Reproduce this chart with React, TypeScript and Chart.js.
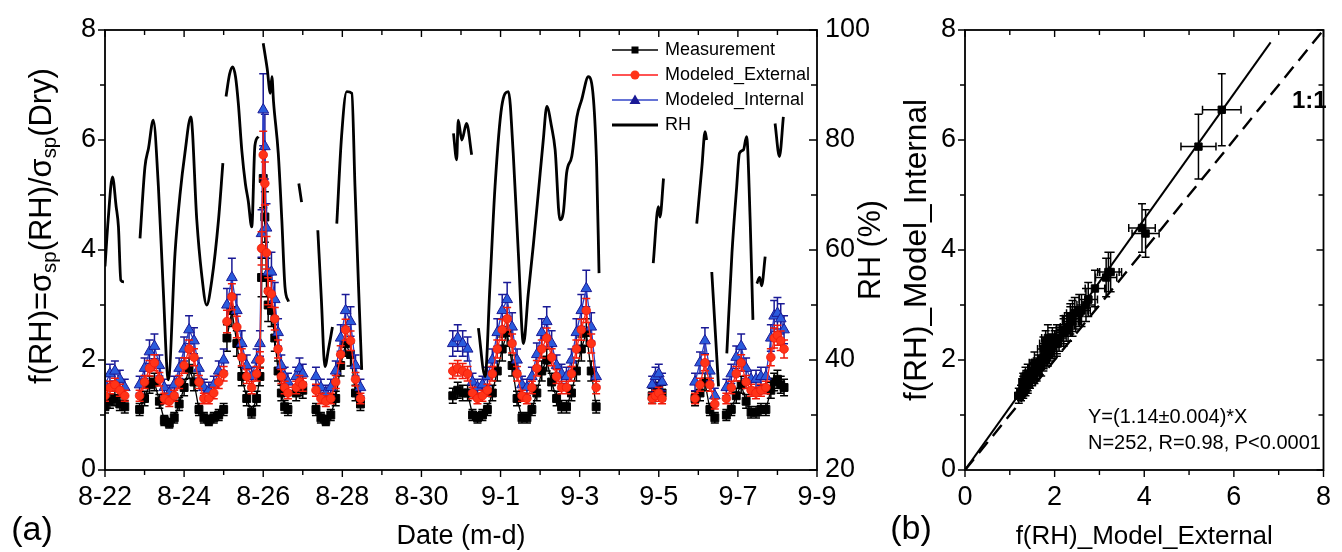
import React, { useEffect, useRef } from "react";
import { Chart, registerables } from "chart.js";
Chart.register(...registerables);

const FONT = '"Liberation Sans", Arial, Helvetica, sans-serif';
const W = 1342;
const H = 552;

// ---------- axis tick labels ----------
const xTickLabels = ["8-22", "8-24", "8-26", "8-28", "8-30", "9-1", "9-3", "9-5", "9-7", "9-9"];

// ---------- panel (a): f(RH) time series (days since 8-22 00:00; null = gap) ----------
const fTime = [
  0, 0.125, 0.25, 0.375, 0.5, 0.7,
  0.875, 1.0, 1.125, 1.25, 1.375, 1.5, 1.625, 1.75, 1.875, 2.0, 2.125, 2.25, 2.375, 2.5, 2.625, 2.75, 2.875, 3.0, 3.04,
  3.083, 3.208, 3.333, 3.458, 3.583, 3.708, 3.833, 3.917, 3.958, 4.0, 4.042, 4.083, 4.125, 4.208, 4.292, 4.375, 4.458, 4.542, 4.625, 4.73,
  4.833, 4.917, 5.0, 5.17,
  5.333, 5.458, 5.583, 5.708, 5.833, 5.958, 6.083, 6.208, 6.333, 6.458, 7.6,
  8.792, 8.917, 9.042, 9.167, 9.292, 9.417, 9.542, 9.667, 9.792, 9.917, 10.042, 10.167, 10.292, 10.417, 10.542,
  10.667, 10.792, 10.917, 11.042, 11.167, 11.292, 11.417, 11.542, 11.667, 11.792, 11.917, 12.042, 12.167, 12.292, 12.417, 13.1,
  13.833, 13.917, 14.0, 14.083, 14.5,
  14.917, 15.042, 15.167, 15.292, 15.417, 15.56,
  15.708, 15.833, 15.958, 16.083, 16.208, 16.333, 16.458, 16.583, 16.708, 16.833, 16.917, 17.0, 17.083, 17.167,
];

const fMeasurement = [
  1.15, 1.25, 1.3, 1.2, 1.15, null,
  1.1, 1.3, 1.55, 1.6, 1.25, 0.9, 0.85, 0.95, 1.2, 1.5, 1.85, 1.6, 1.1, 0.95, 0.9, 0.95, 1.0, 1.1, null,
  2.4, 2.9, 2.3, 1.7, 1.3, 1.05, 1.3, 1.7, 3.5, 5.3, 4.6, 3.5, 3.0, 2.9, 2.4, 1.8, 1.4, 1.15, 1.1, null,
  1.4, 1.5, 1.45, null,
  1.1, 0.95, 0.9, 1.0, 1.3, 1.9, 2.3, 2.1, 1.4, 1.2, null,
  1.35, 1.45, 1.4, 1.4, 1.0, 0.95, 1.0, 1.1, 1.4, 1.8, 2.2, 2.5, 1.9, 1.3, 0.95,
  0.95, 1.1, 1.4, 1.8, 2.0, 1.6, 1.3, 1.15, 1.15, 1.4, 1.8, 2.2, 2.5, 1.8, 1.15, null,
  1.35, 1.45, 1.5, 1.4, null,
  1.3, 1.4, 1.6, 1.1, 0.95, null,
  1.0, 1.1, 1.35, 1.55, 1.25, 1.05, 1.05, 1.1, 1.1, 1.45, 1.6, 1.65, 1.55, 1.5,
];

const fExternal = [
  1.35, 1.5, 1.55, 1.45, 1.35, null,
  1.35, 1.6, 1.85, 1.95, 1.65, 1.3, 1.25, 1.35, 1.6, 1.9, 2.2, 2.05, 1.6, 1.3, 1.3, 1.4, 1.6, 1.75, null,
  2.7, 3.15, 2.6, 2.05, 1.7, 1.5, 1.75, 2.0, 4.03, 5.73, 5.21, 3.95, 3.25, 3.2, 2.75, 2.2, 1.7, 1.5, 1.4, null,
  1.5, 1.6, 1.55, null,
  1.45, 1.3, 1.25, 1.3, 1.6, 2.1, 2.55, 2.35, 1.65, 1.3, null,
  1.8, 1.85, 1.8, 1.75, 1.4, 1.3, 1.35, 1.45, 1.75, 2.2, 2.55, 2.75, 2.3, 1.75, 1.35,
  1.3, 1.5, 1.85, 2.2, 2.4, 2.05, 1.7, 1.5, 1.5, 1.75, 2.2, 2.55, 2.9, 2.3, 1.5, null,
  1.3, 1.35, 1.4, 1.3, null,
  1.3, 1.55, 1.95, 1.55, 1.2, null,
  1.3, 1.5, 1.75, 1.95, 1.6, 1.45, 1.4, 1.45, 1.5, 2.05, 2.4, 2.45, 2.35, 2.2,
];

const fInternal = [
  1.55, 1.75, 1.8, 1.65, 1.5, null,
  1.55, 1.85, 2.15, 2.25, 1.9, 1.5, 1.4, 1.55, 1.85, 2.2, 2.55, 2.35, 1.85, 1.5, 1.45, 1.55, 1.8, 2.0, null,
  3.0, 3.5, 2.9, 2.3, 1.9, 1.7, 2.0, 2.3, 4.3, 6.55, 5.88, 4.4, 3.6, 3.6, 3.1, 2.5, 1.9, 1.7, 1.6, null,
  1.7, 1.85, 1.75, null,
  1.7, 1.5, 1.4, 1.5, 1.8, 2.4, 2.9, 2.7, 1.9, 1.5, null,
  2.3, 2.4, 2.3, 2.2, 1.6, 1.5, 1.55, 1.7, 2.0, 2.5, 2.9, 3.1, 2.6, 2.0, 1.55,
  1.5, 1.7, 2.1, 2.5, 2.7, 2.3, 1.9, 1.75, 1.7, 2.0, 2.5, 2.9, 3.3, 2.6, 1.7, null,
  1.55, 1.7, 1.75, 1.6, null,
  1.6, 1.95, 2.35, 1.8, 1.35, null,
  1.5, 1.75, 2.05, 2.25, 1.85, 1.65, 1.65, 1.7, 1.7, 2.4, 2.8, 2.85, 2.75, 2.55,
];

// relative uncertainties (error bars)
const errMeasurement = 0.1;
const errExternal = 0.075;
const errInternal = 0.1;

// ---------- panel (a): RH (%) ----------
const rhTime = [
  0, 0.08, 0.19, 0.28, 0.34, 0.4, 0.48, 0.7,
  0.885, 1.01, 1.1, 1.22, 1.35, 1.47, 1.6, 1.77, 1.9, 2.02, 2.17, 2.32, 2.44, 2.57, 2.7, 2.87, 2.98, 3.02,
  3.06, 3.15, 3.23, 3.3, 3.37, 3.46, 3.55, 3.62, 3.71, 3.79, 3.88, 3.95,
  4.0, 4.1, 4.18, 4.22, 4.26, 4.38, 4.47, 4.55, 4.64, 4.78,
  4.9, 4.97, 5.2,
  5.38, 5.47, 5.56, 5.65, 5.75, 5.8,
  5.86, 5.98, 6.11, 6.24, 6.32, 6.41, 6.49, 7.6,
  8.81, 8.89, 8.93, 9.02, 9.14, 9.27, 9.35,
  9.44, 9.61, 9.73, 9.86, 10.03, 10.2, 10.32, 10.45, 10.58, 10.7, 10.83, 10.95, 11.08, 11.17, 11.29,
  11.38, 11.5, 11.59, 11.67, 11.8, 11.93, 12.05, 12.22, 12.35, 12.43, 12.49, 13.2,
  13.86, 13.99, 14.03, 14.12, 14.5,
  14.96, 15.09, 15.17, 15.21, 15.27,
  15.34, 15.43, 15.51, 15.6,
  15.72, 15.85, 15.97, 16.04, 16.14, 16.22, 16.31, 16.38, 16.43,
  16.48, 16.55, 16.6, 16.69, 16.8,
  16.94, 17.05, 17.15,
];
const rhValue = [
  57, 65.5, 73.3, 68, 64.2, 54.5, 54.2, null,
  62.1, 75.1, 78.5, 83.6, 71.5, 53.3, 36.4, 59.4, 70.3, 77.6, 84.2, 65.5, 55.8, 50, 54.5, 65.5, 75.8, null,
  87.9, 92, 93.3, 91.5, 86.7, 78, 72, 69, 64.2, 79, 80.6, null,
  97.6, 93, 88.5, 91.5, 87, 77.6, 65.5, 53.3, 50.6, null,
  72.1, 68.7, null,
  63.6, 51, 38.8, 42, 46, null,
  64.8, 80.6, 88.8, 88.5, 71.5, 53.3, 38.2, null,
  81.2, 76.4, 83.6, 80, 83, 77.3, null,
  45.8, 37, 53.3, 71.5, 86.1, 88.8, 77.6, 59.4, 43, 52, 61, 70, 80, 86.1, 82.4,
  78.2, 65.5, 67, 74, 77, 84.2, 87.3, 91.5, 87.3, 75.1, 55.8, null,
  57.6, 67.9, 66, 73, null,
  64.8, 75.1, 81.5, 80, null,
  56, 45, 35.2, null,
  41.2, 59.4, 71.5, 77.6, 78.2, 80.6, 65.5, 47.3, null,
  53.9, 55, 53.5, 58.8, null,
  83, 77, 84.2,
];

// ---------- panel (b): regression ----------
const fitSlope = 1.14;
const fitXRange = [0, 6.82];
const oneToOneRange = [0, 8];
const statsLines = ["Y=(1.14\u00B10.004)*X", "N=252, R=0.98, P<0.0001"];

// ---------- helpers ----------
const toXY = (xs: number[], ys: (number | null)[]) => xs.map((x, i) => ({ x, y: ys[i] }));

function drawText(ctx: CanvasRenderingContext2D, s: string, x: number, y: number, font: string,
  align: CanvasTextAlign = "center", rot = 0) {
  ctx.save();
  ctx.translate(x, y);
  if (rot) ctx.rotate(rot);
  ctx.font = font;
  ctx.textAlign = align;
  ctx.textBaseline = "middle";
  ctx.fillStyle = "#000";
  ctx.fillText(s, 0, 0);
  ctx.restore();
}

// rotated text fitted to a target length
function drawFittedRotated(ctx: CanvasRenderingContext2D, s: string, cx: number, cy: number, target: number) {
  ctx.save();
  ctx.font = `30px ${FONT}`;
  const w = ctx.measureText(s).width;
  const size = (30 * target) / w;
  ctx.restore();
  drawText(ctx, s, cx, cy, `${size.toFixed(1)}px ${FONT}`, "center", -Math.PI / 2);
}

function drawRichRotated(ctx: CanvasRenderingContext2D, cx: number, cy: number,
  parts: { t: string; sub?: boolean }[], target: number) {
  ctx.save();
  ctx.translate(cx, cy);
  ctx.rotate(-Math.PI / 2);
  ctx.textBaseline = "middle";
  ctx.textAlign = "left";
  ctx.fillStyle = "#000";
  const measure = (size: number) => {
    let total = 0;
    const widths = parts.map((p) => {
      ctx.font = `${p.sub ? size * 0.66 : size}px ${FONT}`;
      const w = ctx.measureText(p.t).width;
      total += w;
      return w;
    });
    return { total, widths };
  };
  const base = measure(30);
  const size = (30 * target) / base.total;
  const m = measure(size);
  let x = -m.total / 2;
  parts.forEach((p, i) => {
    ctx.font = `${p.sub ? size * 0.66 : size}px ${FONT}`;
    ctx.fillText(p.t, x, p.sub ? size * 0.27 : 0);
    x += m.widths[i];
  });
  ctx.restore();
}

function drawFrameAndTicks(chart: any, xId: string, yId: string, y2Id: string | null) {
  const { ctx, chartArea: a } = chart;
  const xs = chart.scales[xId];
  const ys = chart.scales[yId];
  ctx.save();
  ctx.strokeStyle = "#000";
  ctx.lineWidth = 1.8;
  ctx.strokeRect(a.left, a.top, a.right - a.left, a.bottom - a.top);
  ctx.lineWidth = 1.4;
  ctx.beginPath();
  xs.ticks.forEach((t: any) => {
    const px = xs.getPixelForValue(t.value);
    const len = t.label !== "" ? 7 : 5;
    ctx.moveTo(px, a.bottom);
    ctx.lineTo(px, a.bottom + len);
    ctx.moveTo(px, a.top);
    ctx.lineTo(px, a.top + len);
  });
  ys.ticks.forEach((t: any) => {
    const py = ys.getPixelForValue(t.value);
    const len = t.label !== "" ? 7 : 5;
    ctx.moveTo(a.left - len, py);
    ctx.lineTo(a.left, py);
    if (!y2Id) {
      ctx.moveTo(a.right - len, py);
      ctx.lineTo(a.right, py);
    }
  });
  if (y2Id) {
    const y2 = chart.scales[y2Id];
    y2.ticks.forEach((t: any) => {
      const py = y2.getPixelForValue(t.value);
      const len = t.label !== "" ? 8 : 6;
      ctx.moveTo(a.right - len, py);
      ctx.lineTo(a.right, py);
    });
  }
  ctx.stroke();
  ctx.restore();
}

const errorBarPlugin = {
  id: "errorBars",
  beforeDatasetDraw(chart: any, args: any) {
    const ds: any = chart.data.datasets[args.index];
    if (!ds.errY && !ds.errX) return;
    const meta = args.meta;
    const xs = chart.scales[meta.xAxisID];
    const ys = chart.scales[meta.yAxisID];
    const ctx = chart.ctx;
    const a = chart.chartArea;
    ctx.save();
    ctx.beginPath();
    ctx.rect(a.left, a.top, a.right - a.left, a.bottom - a.top);
    ctx.clip();
    ctx.strokeStyle = ds.errColor;
    ctx.lineWidth = 1.5;
    ctx.beginPath();
    const cap = 4;
    ds.data.forEach((p: any) => {
      if (p.y == null || p.x == null) return;
      const px = xs.getPixelForValue(p.x);
      const py = ys.getPixelForValue(p.y);
      if (ds.errY) {
        const e = p.y * ds.errY;
        const y0 = ys.getPixelForValue(p.y - e);
        const y1 = ys.getPixelForValue(p.y + e);
        ctx.moveTo(px, y0); ctx.lineTo(px, y1);
        ctx.moveTo(px - cap, y0); ctx.lineTo(px + cap, y0);
        ctx.moveTo(px - cap, y1); ctx.lineTo(px + cap, y1);
      }
      if (ds.errX) {
        const e = p.x * ds.errX;
        const x0 = xs.getPixelForValue(p.x - e);
        const x1 = xs.getPixelForValue(p.x + e);
        ctx.moveTo(x0, py); ctx.lineTo(x1, py);
        ctx.moveTo(x0, py - cap); ctx.lineTo(x0, py + cap);
        ctx.moveTo(x1, py - cap); ctx.lineTo(x1, py + cap);
      }
    });
    ctx.stroke();
    ctx.restore();
  },
};

const COL_RED = "#ff3318";
const COL_RED_DARK = "#f01a0a";
const COL_BLUE = "#2a5bdc";
const COL_NAVY = "#1a1a96";

const leftDecor = {
  id: "leftDecor",
  afterDraw(chart: any) {
    const ctx = chart.ctx as CanvasRenderingContext2D;
    const a = chart.chartArea;
    drawFrameAndTicks(chart, "x", "y", "y1");
    // left axis title with subscripts
    drawRichRotated(ctx, 42, 226, [
      { t: "f(RH)=\u03C3" }, { t: "sp", sub: true }, { t: "(RH)/\u03C3" }, { t: "sp", sub: true }, { t: "(Dry)" },
    ], 316);
    drawFittedRotated(ctx, "RH (%)", 872, (a.top + a.bottom) / 2, 100);
    drawText(ctx, "Date (m-d)", (a.left + a.right) / 2, 537, `27px ${FONT}`);
    drawText(ctx, "(a)", 32, 531, `34px ${FONT}`);
    // legend
    const lx0 = a.right - 205, lx1 = a.right - 159, mx = (lx0 + lx1) / 2, tx = a.right - 152;
    const rows = ["Measurement", "Modeled_External", "Modeled_Internal", "RH"];
    rows.forEach((name, i) => {
      const y = a.top + 20 + i * 25;
      ctx.save();
      ctx.lineWidth = i === 3 ? 2.8 : 1.6;
      ctx.strokeStyle = i === 1 ? "#ff1a1a" : i === 2 ? "#3346c8" : "#000";
      ctx.beginPath(); ctx.moveTo(lx0, y); ctx.lineTo(lx1, y); ctx.stroke();
      if (i === 0) { ctx.fillStyle = "#000"; ctx.fillRect(mx - 3.5, y - 3.5, 7, 7); }
      if (i === 1) { ctx.fillStyle = COL_RED; ctx.beginPath(); ctx.arc(mx, y, 4.5, 0, Math.PI * 2); ctx.fill(); }
      if (i === 2) {
        ctx.fillStyle = COL_NAVY; ctx.beginPath();
        ctx.moveTo(mx, y - 5.5); ctx.lineTo(mx + 5.5, y + 4); ctx.lineTo(mx - 5.5, y + 4); ctx.closePath(); ctx.fill();
      }
      ctx.restore();
      drawText(ctx, name, tx, y, `18px ${FONT}`, "left");
    });
  },
};

const rightDecor = {
  id: "rightDecor",
  afterDraw(chart: any) {
    const ctx = chart.ctx as CanvasRenderingContext2D;
    const a = chart.chartArea;
    drawFrameAndTicks(chart, "x", "y", null);
    drawFittedRotated(ctx, "f(RH)_Model_Internal", 917, (a.top + a.bottom) / 2, 302);
    drawText(ctx, "f(RH)_Model_External", (a.left + a.right) / 2, 537, `26px ${FONT}`);
    drawText(ctx, "(b)", 911, 530, `34px ${FONT}`);
    drawText(ctx, "1:1", 1292, 101, `bold 24px ${FONT}`, "left");
    drawText(ctx, statsLines[0], 1088, 417, `20px ${FONT}`, "left");
    drawText(ctx, statsLines[1], 1088, 443, `20px ${FONT}`, "left");
  },
};

const tickFont = { size: 27, family: FONT };

export default function App() {
  const leftRef = useRef<HTMLCanvasElement>(null);
  const rightRef = useRef<HTMLCanvasElement>(null);

  useEffect(() => {
    Chart.defaults.font.family = FONT;
    Chart.defaults.color = "#000";

    const left = new Chart(leftRef.current as HTMLCanvasElement, {
      type: "line",
      data: {
        datasets: [
          {
            label: "RH", data: toXY(rhTime, rhValue) as any, xAxisID: "x", yAxisID: "y1",
            borderColor: "#000", borderWidth: 2.8, pointRadius: 0, cubicInterpolationMode: "monotone", order: 0,
          } as any,
          {
            label: "Modeled_External", data: toXY(fTime, fExternal) as any, xAxisID: "x", yAxisID: "y",
            borderColor: "#ff2a1a", borderWidth: 1.3, pointStyle: "circle", pointRadius: 4.3,
            pointBackgroundColor: COL_RED, pointBorderColor: COL_RED_DARK, pointBorderWidth: 0.8,
            errY: errExternal, errColor: COL_RED_DARK, order: 1,
          } as any,
          {
            label: "Modeled_Internal", data: toXY(fTime, fInternal) as any, xAxisID: "x", yAxisID: "y",
            borderColor: "#2a3ec8", borderWidth: 1.3, pointStyle: "triangle", pointRadius: 6.2,
            pointBackgroundColor: COL_BLUE, pointBorderColor: COL_NAVY, pointBorderWidth: 1,
            errY: errInternal, errColor: COL_NAVY, order: 2,
          } as any,
          {
            label: "Measurement", data: toXY(fTime, fMeasurement) as any, xAxisID: "x", yAxisID: "y",
            borderColor: "#000", borderWidth: 1.3, pointStyle: "rect", pointRadius: 5.6,
            pointBackgroundColor: "#000", pointBorderColor: "#000", pointBorderWidth: 1,
            errY: errMeasurement, errColor: "#000", order: 3,
          } as any,
        ],
      },
      options: {
        responsive: false,
        animation: false,
        devicePixelRatio: 1,
        events: [],
        layout: { padding: { top: 30, left: 0, right: 0, bottom: 0 } },
        plugins: { legend: { display: false }, tooltip: { enabled: false } },
        scales: {
          x: {
            type: "linear", position: "bottom", min: 0, max: 18,
            grid: { display: false, drawTicks: false }, border: { display: false },
            ticks: {
              stepSize: 1, autoSkip: false, maxRotation: 0, minRotation: 0, padding: 11, color: "#000", font: tickFont,
              callback: (v: any) => (Number(v) % 2 === 0 ? xTickLabels[Number(v) / 2] : ""),
            },
            afterFit: (s: any) => { s.height = H - 470; },
          },
          y: {
            type: "linear", position: "left", min: 0, max: 8,
            grid: { display: false, drawTicks: false }, border: { display: false },
            ticks: {
              stepSize: 1, autoSkip: false, padding: 9, color: "#000", font: tickFont,
              callback: (v: any) => (Number(v) % 2 === 0 ? String(v) : ""),
            },
            afterFit: (s: any) => { s.width = 105; },
          },
          y1: {
            type: "linear", position: "right", min: 20, max: 100,
            grid: { display: false, drawTicks: false }, border: { display: false },
            ticks: {
              stepSize: 10, autoSkip: false, padding: 8, color: "#000", font: tickFont,
              callback: (v: any) => (Number(v) % 20 === 0 ? String(v) : ""),
            },
            afterFit: (s: any) => { s.width = W - 817; },
          },
        },
      } as any,
      plugins: [errorBarPlugin, leftDecor],
    });

    const pairs = fTime
      .map((_, i) => ({ x: fExternal[i], y: fInternal[i] }))
      .filter((p) => p.x != null && p.y != null);

    const right = new Chart(rightRef.current as HTMLCanvasElement, {
      type: "scatter",
      data: {
        datasets: [
          {
            label: "points", data: pairs as any, pointStyle: "rect", pointRadius: 5.2,
            pointBackgroundColor: "#000", pointBorderColor: "#000", showLine: false,
            errX: errExternal, errY: errInternal, errColor: "#000", order: 0,
          } as any,
          {
            label: "fit", data: fitXRange.map((x) => ({ x, y: x * fitSlope })), showLine: true,
            borderColor: "#000", borderWidth: 2, pointRadius: 0, order: 1,
          } as any,
          {
            label: "1:1", data: oneToOneRange.map((x) => ({ x, y: x })), showLine: true,
            borderColor: "#000", borderWidth: 2.4, borderDash: [14, 8], pointRadius: 0, order: 2,
          } as any,
        ],
      },
      options: {
        responsive: false,
        animation: false,
        devicePixelRatio: 1,
        events: [],
        layout: { padding: { top: 30, left: 0, right: 10, bottom: 0 } },
        plugins: { legend: { display: false }, tooltip: { enabled: false } },
        scales: {
          x: {
            type: "linear", position: "bottom", min: 0, max: 8,
            grid: { display: false, drawTicks: false }, border: { display: false },
            ticks: {
              stepSize: 1, autoSkip: false, maxRotation: 0, padding: 11, color: "#000", font: tickFont,
              callback: (v: any) => (Number(v) % 2 === 0 ? String(v) : ""),
            },
            afterFit: (s: any) => { s.height = H - 470; },
          },
          y: {
            type: "linear", position: "left", min: 0, max: 8,
            grid: { display: false, drawTicks: false }, border: { display: false },
            ticks: {
              stepSize: 1, autoSkip: false, padding: 9, color: "#000", font: tickFont,
              callback: (v: any) => (Number(v) % 2 === 0 ? String(v) : ""),
            },
            afterFit: (s: any) => { s.width = 965; },
          },
        },
      } as any,
      plugins: [errorBarPlugin, rightDecor],
    });

    return () => {
      left.destroy();
      right.destroy();
    };
  }, []);

  const cs: React.CSSProperties = { position: "absolute", left: 0, top: 0, width: W, height: H };
  return (
    <div style={{ position: "absolute", left: 0, top: 0, width: W, height: H, background: "#fff" }}>
      <canvas ref={leftRef} width={W} height={H} style={cs} />
      <canvas ref={rightRef} width={W} height={H} style={cs} />
    </div>
  );
}
